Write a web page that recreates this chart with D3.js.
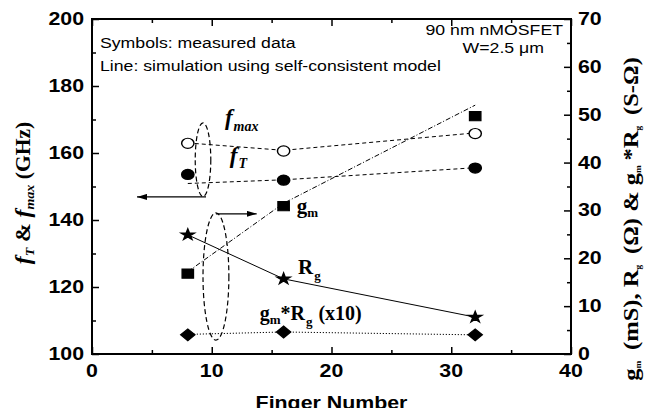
<!DOCTYPE html>
<html>
<head>
<meta charset="utf-8">
<script src="https://cdn.jsdelivr.net/npm/d3@7/dist/d3.min.js"></script>
<style>
  body { margin: 0; background: #fff; }
  svg { display: block; }
</style>
</head>
<body>
<svg id="chart" width="646" height="408"></svg>
<script>
// Finger-number sweep of a 90 nm nMOSFET (W = 2.5 um)
const fingers = [8, 16, 32];

// measured (symbols)
const fmaxMeasured = [162.9, 160.6, 165.8];   // GHz, left axis
const fTMeasured   = [153.6, 151.9, 155.5];   // GHz, left axis
const gmMeasured   = [16.8, 30.9, 49.7];      // mS, right axis
const rgMeasured   = [24.9, 15.7, 7.7];       // ohm, right axis
const gmRgMeasured = [4.0, 4.6, 4.0];         // x10, right axis

// self-consistent model (lines)
const fmaxModel = [163.0, 160.8, 166.0];
const fTModel   = [150.9, 152.0, 155.6];
const gmModel   = [17.2, 31.5, 52.0];
const rgModel   = [24.9, 15.7, 7.7];
const gmRgModel = [4.1, 4.6, 4.0];

// axis ticks
const xTicks = [0, 10, 20, 30, 40];
const xMinor = [5, 15, 25, 35];
const leftTicks = [100, 120, 140, 160, 180, 200];
const leftMinor = [110, 130, 150, 170, 190];
const rightTicks = [0, 10, 20, 30, 40, 50, 60, 70];
const rightMinor = [5, 15, 25, 35, 45, 55, 65];

const SX = 1.22; // horizontal glyph stretch of the sans-serif text and symbols
const m = { left: 92, right: 571, top: 19, bottom: 354 };

const svg = d3.select("#chart");
const x = d3.scaleLinear().domain([0, 40]).range([m.left, m.right]);
const yL = d3.scaleLinear().domain([100, 200]).range([m.bottom, m.top]);
const yR = d3.scaleLinear().domain([0, 70]).range([m.bottom, m.top]);

const SANS = "'Liberation Sans', Arial, sans-serif";
const SERIF = "'Liberation Serif', 'Times New Roman', serif";

// ---------- axes (ticks point inward) ----------
function tickAxis(axis, values, size, transform) {
  const g = svg.append("g").attr("transform", transform)
    .call(axis.tickValues(values).tickSize(size).tickSizeOuter(0).tickFormat(""));
  g.select(".domain").remove();
  g.selectAll(".tick line").attr("stroke", "#000").attr("stroke-width", 1.5);
  return g;
}
tickAxis(d3.axisBottom(x), xTicks, -7, `translate(0,${m.bottom})`);
tickAxis(d3.axisBottom(x), xMinor, -4, `translate(0,${m.bottom})`);
tickAxis(d3.axisTop(x), xTicks, -7, `translate(0,${m.top})`);
tickAxis(d3.axisTop(x), xMinor, -4, `translate(0,${m.top})`);
tickAxis(d3.axisLeft(yL), leftTicks, -7, `translate(${m.left},0)`);
tickAxis(d3.axisLeft(yL), leftMinor, -4, `translate(${m.left},0)`);
tickAxis(d3.axisRight(yR), rightTicks, -7, `translate(${m.right},0)`);
tickAxis(d3.axisRight(yR), rightMinor, -4, `translate(${m.right},0)`);

svg.append("rect")
  .attr("x", m.left).attr("y", m.top)
  .attr("width", m.right - m.left).attr("height", m.bottom - m.top)
  .attr("fill", "none").attr("stroke", "#000").attr("stroke-width", 2);

// stretched sans text helper
function sansText(px, py, str, size, anchor, weight) {
  return svg.append("text")
    .attr("transform", `translate(${px},${py}) scale(${SX},1)`)
    .attr("font-family", SANS).attr("font-size", size)
    .attr("font-weight", weight || "normal")
    .attr("text-anchor", anchor || "start")
    .text(str);
}

// tick labels
xTicks.forEach(v => sansText(x(v), m.bottom + 23, v, 17.5, "middle", "bold"));
leftTicks.forEach(v => sansText(m.left - 8, yL(v) + 6, v, 17.5, "end", "bold"));
rightTicks.forEach(v => sansText(m.right + 7, yR(v) + 6, v, 17.5, "start", "bold"));

// x-axis title (its lower part runs past the bottom edge)
sansText((m.left + m.right) / 2, 409, "Finger Number", 17.5, "middle", "bold");

// ---------- rich serif text (with subscripts) ----------
function richText(g, parts, base) {
  const t = g.append("text").attr("font-family", SERIF).attr("font-weight", "bold");
  let shifted = 0;
  parts.forEach(p => {
    const target = p.sub ? (p.shift || 5) : 0;
    t.append("tspan")
      .attr("font-size", p.s || base)
      .attr("font-style", p.i ? "italic" : "normal")
      .attr("dy", target - shifted)
      .attr("dx", p.dx || 0)
      .text(p.t);
    shifted = target;
  });
  return t;
}

// left axis title
{
  const g = svg.append("g").attr("transform", `translate(30,193) rotate(-90) scale(1.08,1)`);
  richText(g, [
    { t: "f", i: true, s: 22 },
    { t: "T", i: true, s: 13, sub: true, shift: 4 },
    { t: " & ", s: 21 },
    { t: "f", i: true, s: 22 },
    { t: "max", i: true, s: 13, sub: true, shift: 4 },
    { t: " (GHz)", s: 20 }
  ], 20).attr("text-anchor", "middle");
}

// right axis title
{
  const g = svg.append("g").attr("transform", `translate(638,219) rotate(-90) scale(1.17,1)`);
  richText(g, [
    { t: "g", s: 21 }, { t: "m", s: 8, sub: true, shift: 3 },
    { t: " (mS), R", s: 21, dx: 4 }, { t: "g", s: 8, sub: true, shift: 3 },
    { t: " (\u03A9) & g", s: 21, dx: 4 }, { t: "m", s: 8, sub: true, shift: 3 },
    { t: "*R", s: 21, dx: 4 }, { t: "g", s: 8, sub: true, shift: 3 },
    { t: " (S-\u03A9)", s: 21, dx: 4 }
  ], 21).attr("text-anchor", "middle");
}

// ---------- notes ----------
sansText(100, 48, "Symbols: measured data", 14.5);
sansText(100, 71, "Line: simulation using self-consistent model", 14.5);
sansText(563, 35, "90 nm nMOSFET", 14.5, "end");
sansText(544, 53, "W=2.5 \u03BCm", 14.5, "end");

// ---------- model lines ----------
function modelLine(vals, yScale, dash) {
  const pts = fingers.map((f, i) => [f, vals[i]]);
  svg.append("path")
    .attr("d", d3.line().x(d => x(d[0])).y(d => yScale(d[1]))(pts))
    .attr("fill", "none").attr("stroke", "#000").attr("stroke-width", 1)
    .attr("stroke-dasharray", dash);
}
modelLine(fmaxModel, yL, "4,3");
modelLine(fTModel, yL, "4,3");
modelLine(gmModel, yR, "5,2,1,2");
modelLine(rgModel, yR, null);
modelLine(gmRgModel, yR, "1.2,1.8");

// ---------- measured symbols ----------
function markers(vals, yScale, type, size, fill, rot) {
  svg.append("g").selectAll("path").data(fingers.map((f, i) => [f, vals[i]]))
    .join("path")
    .attr("d", d3.symbol().type(type).size(size)())
    .attr("transform", d => `translate(${x(d[0])},${yScale(d[1])}) scale(${SX},1)` + (rot ? ` rotate(${rot})` : ""))
    .attr("fill", fill).attr("stroke", "#000").attr("stroke-width", 1.2);
}
markers(fmaxMeasured, yL, d3.symbolCircle, 80, "#fff");
markers(fTMeasured, yL, d3.symbolCircle, 80, "#000");
markers(gmMeasured, yR, d3.symbolSquare, 85, "#000");
markers(rgMeasured, yR, d3.symbolStar, 38, "#000");
markers(gmRgMeasured, yR, d3.symbolSquare, 68, "#000", 45);

// ---------- series labels ----------
function seriesLabel(fx, val, yScale, parts, base) {
  const g = svg.append("g").attr("transform", `translate(${x(fx)},${yScale(val)})`);
  richText(g, parts, base);
}
seriesLabel(11.1, 168.4, yL, [{ t: "f", i: true, s: 23 }, { t: "max", i: true, s: 14, sub: true, shift: 6, dx: 1 }], 23);
seriesLabel(11.5, 157.0, yL, [{ t: "f", i: true, s: 23 }, { t: "T", i: true, s: 14, sub: true, shift: 5, dx: 1 }], 23);
seriesLabel(17.1, 29.5, yR, [{ t: "g", s: 21 }, { t: "m", s: 13, sub: true, shift: 4 }], 21);
seriesLabel(17.2, 16.7, yR, [{ t: "R", s: 21 }, { t: "g", s: 13, sub: true, shift: 6, dx: 1 }], 21);
seriesLabel(14.0, 7.1, yR, [
  { t: "g", s: 20 }, { t: "m", s: 13, sub: true, shift: 4 },
  { t: "*R", s: 20 }, { t: "g", s: 13, sub: true, shift: 6, dx: 1 },
  { t: " (x10)", s: 20, dx: 1 }
], 20);

// ---------- grouping ellipses and axis arrows ----------
const defs = svg.append("defs");
defs.append("marker").attr("id", "head").attr("viewBox", "0 0 10 6")
  .attr("refX", 10).attr("refY", 3).attr("markerWidth", 10).attr("markerHeight", 6)
  .attr("markerUnits", "userSpaceOnUse").attr("orient", "auto")
  .append("path").attr("d", "M0,0 L10,3 L0,6 Z").attr("fill", "#000");

function ellipse(cx, cy, dx, dy, yScale) {
  svg.append("ellipse")
    .attr("cx", x(cx)).attr("cy", yScale(cy))
    .attr("rx", x(cx + dx) - x(cx)).attr("ry", yScale(cy) - yScale(cy + dy))
    .attr("fill", "none").attr("stroke", "#000").attr("stroke-width", 1.2)
    .attr("stroke-dasharray", "5,3");
}
ellipse(9.27, 158.0, 0.65, 11.0, yL);
ellipse(10.35, 16.2, 1.08, 13.3, yR);

function arrow(x0, x1, val, yScale) {
  svg.append("line")
    .attr("x1", x(x0)).attr("x2", x(x1)).attr("y1", yScale(val)).attr("y2", yScale(val))
    .attr("stroke", "#000").attr("stroke-width", 1.3).attr("marker-end", "url(#head)");
}
arrow(9.52, 3.76, 146.9, yL);
arrow(10.35, 13.75, 29.3, yR);
</script>
</body>
</html>
